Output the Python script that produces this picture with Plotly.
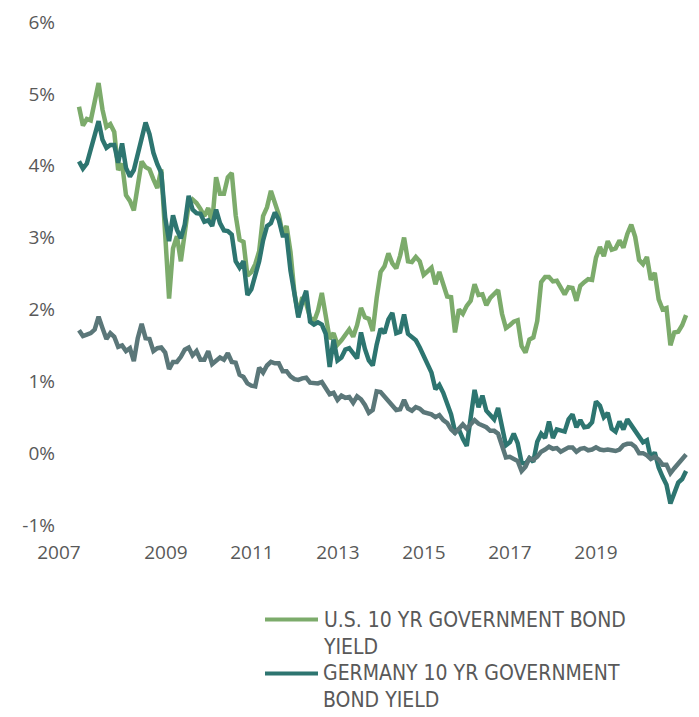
import plotly.graph_objects as go

# Monthly observations, Jan 2007 .. Dec 2019
years = list(range(2007, 2020))

us_10y = [
    4.82, 4.56, 4.65, 4.63, 4.89, 5.15, 4.78, 4.54, 4.58, 4.47, 3.94, 4.03,   # 2007
    3.59, 3.51, 3.38, 3.73, 4.06, 3.98, 3.95, 3.81, 3.69, 3.95, 2.93, 2.15,   # 2008
    2.85, 3.02, 2.67, 3.12, 3.46, 3.53, 3.48, 3.40, 3.30, 3.41, 3.20, 3.84,   # 2009
    3.61, 3.61, 3.84, 3.90, 3.31, 2.97, 2.94, 2.47, 2.52, 2.63, 2.81, 3.30,   # 2010
    3.42, 3.65, 3.47, 3.32, 3.05, 3.16, 2.80, 2.23, 1.92, 2.17, 2.08, 1.89,   # 2011
    1.83, 1.98, 2.23, 1.95, 1.59, 1.67, 1.51, 1.57, 1.65, 1.72, 1.62, 1.78,   # 2012
    2.02, 1.89, 1.87, 1.70, 2.16, 2.52, 2.60, 2.78, 2.64, 2.57, 2.75, 3.00,   # 2013
    2.67, 2.66, 2.73, 2.67, 2.48, 2.53, 2.58, 2.35, 2.52, 2.35, 2.18, 2.17,   # 2014
    1.68, 2.00, 1.94, 2.05, 2.12, 2.35, 2.20, 2.21, 2.06, 2.16, 2.21, 2.27,   # 2015
    1.94, 1.74, 1.78, 1.83, 1.85, 1.49, 1.40, 1.58, 1.61, 1.84, 2.38, 2.45,   # 2016
    2.45, 2.39, 2.40, 2.29, 2.21, 2.31, 2.30, 2.12, 2.33, 2.38, 2.42, 2.41,   # 2017
    2.72, 2.87, 2.74, 2.95, 2.83, 2.85, 2.96, 2.86, 3.05, 3.18, 3.01, 2.69,   # 2018
    2.63, 2.73, 2.41, 2.51, 2.14, 2.00, 2.02, 1.50, 1.68, 1.69, 1.78, 1.92,   # 2019
]

germany_10y = [
    4.06, 3.96, 4.03, 4.23, 4.38, 4.62, 4.36, 4.25, 4.29, 4.29, 4.04, 4.31,   # 2007
    3.97, 3.85, 3.94, 4.17, 4.40, 4.60, 4.44, 4.18, 4.02, 3.90, 3.28, 2.95,   # 2008
    3.31, 3.11, 2.99, 3.18, 3.58, 3.39, 3.34, 3.33, 3.22, 3.24, 3.16, 3.39,   # 2009
    3.20, 3.10, 3.09, 3.04, 2.67, 2.58, 2.67, 2.20, 2.28, 2.50, 2.67, 2.96,   # 2010
    3.16, 3.20, 3.35, 3.25, 3.03, 3.03, 2.54, 2.22, 1.89, 2.10, 2.26, 1.83,   # 2011
    1.79, 1.82, 1.79, 1.66, 1.20, 1.58, 1.29, 1.33, 1.44, 1.46, 1.39, 1.32,   # 2012
    1.68, 1.45, 1.29, 1.22, 1.51, 1.73, 1.67, 1.86, 1.95, 1.67, 1.69, 1.93,   # 2013
    1.66, 1.62, 1.57, 1.47, 1.36, 1.25, 1.12, 0.89, 0.95, 0.84, 0.70, 0.54,   # 2014
    0.30, 0.33, 0.20, 0.10, 0.49, 0.88, 0.64, 0.80, 0.59, 0.52, 0.47, 0.63,   # 2015
    0.33, 0.11, 0.15, 0.27, 0.14, -0.13, -0.15, -0.07, -0.12, 0.16, 0.27, 0.21,  # 2016
    0.44, 0.21, 0.33, 0.32, 0.30, 0.47, 0.54, 0.36, 0.46, 0.36, 0.37, 0.43,   # 2017
    0.72, 0.66, 0.50, 0.56, 0.34, 0.30, 0.44, 0.33, 0.47, 0.39, 0.31, 0.24,   # 2018
    0.15, 0.18, -0.07, 0.01, -0.20, -0.33, -0.44, -0.70, -0.57, -0.41, -0.36, -0.25,  # 2019
]

japan_10y = [
    1.71, 1.63, 1.65, 1.67, 1.72, 1.90, 1.74, 1.59, 1.67, 1.62, 1.48, 1.50,   # 2007
    1.42, 1.46, 1.28, 1.60, 1.80, 1.60, 1.59, 1.42, 1.46, 1.47, 1.40, 1.17,   # 2008
    1.27, 1.27, 1.34, 1.44, 1.47, 1.36, 1.42, 1.30, 1.30, 1.42, 1.24, 1.29,   # 2009
    1.33, 1.30, 1.39, 1.27, 1.26, 1.09, 1.06, 0.97, 0.94, 0.93, 1.19, 1.12,   # 2010
    1.22, 1.27, 1.25, 1.25, 1.14, 1.14, 1.07, 1.03, 1.02, 1.04, 1.05, 0.98,   # 2011
    0.97, 0.97, 0.99, 0.89, 0.82, 0.84, 0.74, 0.80, 0.77, 0.78, 0.70, 0.79,   # 2012
    0.75, 0.67, 0.56, 0.60, 0.86, 0.85, 0.79, 0.73, 0.68, 0.60, 0.61, 0.74,   # 2013
    0.62, 0.59, 0.64, 0.62, 0.57, 0.56, 0.54, 0.50, 0.53, 0.46, 0.42, 0.33,   # 2014
    0.28, 0.34, 0.40, 0.34, 0.40, 0.46, 0.41, 0.38, 0.36, 0.31, 0.31, 0.27,   # 2015
    0.10, -0.06, -0.05, -0.08, -0.11, -0.25, -0.19, -0.07, -0.09, -0.05, 0.02, 0.05,  # 2016
    0.09, 0.06, 0.07, 0.02, 0.05, 0.08, 0.08, 0.02, 0.06, 0.07, 0.04, 0.05,   # 2017
    0.08, 0.05, 0.04, 0.05, 0.04, 0.03, 0.05, 0.11, 0.13, 0.13, 0.09, 0.00,   # 2018
    0.00, -0.03, -0.08, -0.05, -0.09, -0.16, -0.16, -0.28, -0.21, -0.14, -0.07, -0.02,  # 2019
]

x_labels = ["2007", "2009", "2011", "2013", "2015", "2017", "2019"]
y_ticks = [-1, 0, 1, 2, 3, 4, 5, 6]
y_labels = ["-1%", "0%", "1%", "2%", "3%", "4%", "5%", "6%"]

legend_names = [
    "U.S. 10 YR GOVERNMENT BOND<br>YIELD",
    "GERMANY 10 YR GOVERNMENT<br>BOND YIELD",
]
colors = ["#7cab6b", "#2d7570", "#5b7779"]

# x position of each monthly observation (fractional year)
t = [y + m / 12.0 for y in years for m in range(12)]

# label positions along the axis as drawn in the source
tick_pos = [2006.574, 2008.85, 2010.68, 2012.51, 2014.34, 2016.17, 2018.0]

W, H = 699, 717
L, R, T, B = 56, 9, 20, 192
PW, PH = W - L - R, H - T - B


def px(x):
    return (x - L) / PW


def py(y):
    return (H - B - y) / PH


fig = go.Figure()
fig.add_trace(go.Scatter(x=t, y=us_10y, mode="lines", name=legend_names[0].replace("<br>", " "),
                         line=dict(color=colors[0], width=4.5)))
fig.add_trace(go.Scatter(x=t, y=germany_10y, mode="lines", name=legend_names[1].replace("<br>", " "),
                         line=dict(color=colors[1], width=4.5)))
fig.add_trace(go.Scatter(x=t, y=japan_10y, mode="lines", name="JAPAN 10 YR GOVERNMENT BOND YIELD",
                         line=dict(color=colors[2], width=4.5)))

# legend drawn manually (the source legend sits at the bottom edge)
shapes = []
annotations = []
legend_rows = [620, 674]
for name, yy, c in zip(legend_names, legend_rows, colors):
    shapes.append(dict(type="line", xref="paper", yref="paper",
                       x0=px(265), x1=px(318), y0=py(yy), y1=py(yy),
                       line=dict(color=c, width=4)))
    annotations.append(dict(text=name, xref="paper", yref="paper",
                            x=px(321), y=py(yy - 14), xanchor="left", yanchor="top",
                            align="left", showarrow=False,
                            font=dict(family="DejaVu Sans Condensed, Roboto, sans-serif",
                                      size=21, color="#595959")))

fig.update_layout(
    width=W, height=H,
    margin=dict(l=L, r=R, t=T, b=B),
    paper_bgcolor="white", plot_bgcolor="white",
    font=dict(family="Open Sans, Noto Sans, sans-serif", size=19, color="#595959"),
    showlegend=False,
    xaxis=dict(range=[2007.0 - 23.0 / 47.0, 2020.0], showgrid=False, zeroline=False, showline=False,
               tickmode="array", tickvals=tick_pos, ticktext=x_labels,
               ticks="", ticklabelstandoff=14, tickfont=dict(size=19, color="#595959")),
    yaxis=dict(range=[-1, 6], showgrid=False, zeroline=False, showline=False,
               tickmode="array", tickvals=y_ticks, ticktext=y_labels,
               ticks="", ticklabelstandoff=0, tickfont=dict(size=19, color="#595959")),
    shapes=shapes,
    annotations=annotations,
)

fig.write_html("out.html")
